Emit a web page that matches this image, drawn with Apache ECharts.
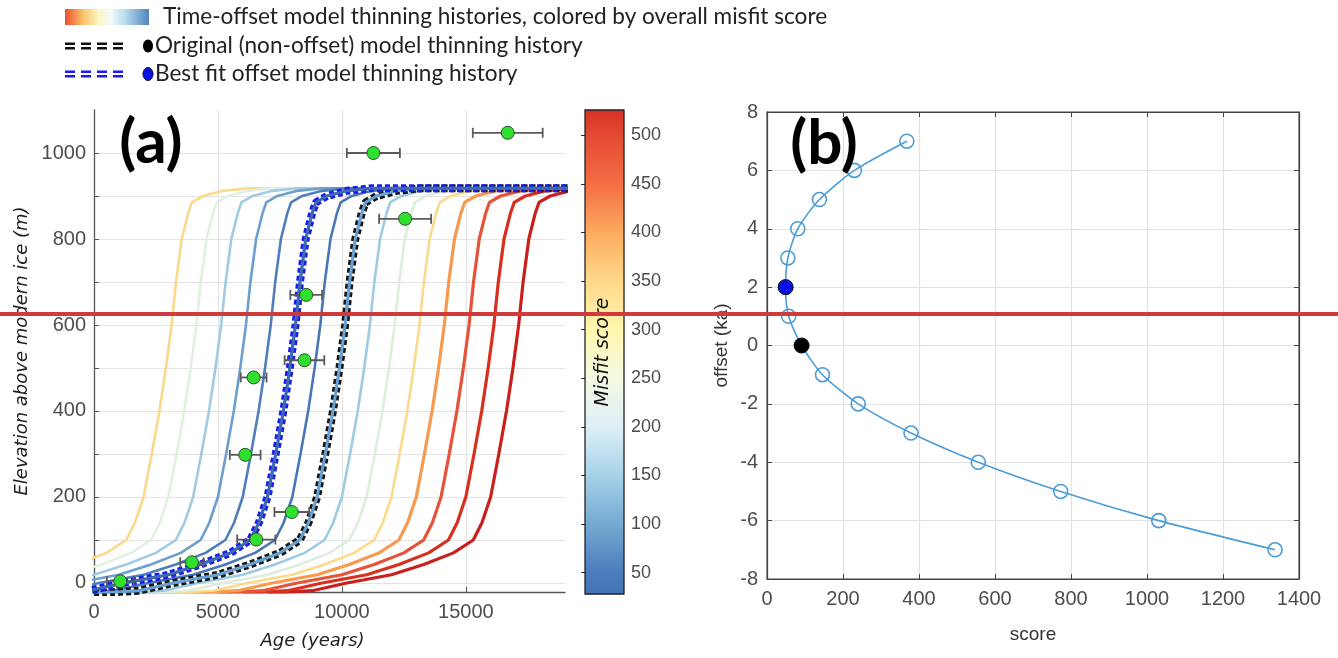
<!DOCTYPE html>
<html><head><meta charset="utf-8">
<script src="https://cdn.jsdelivr.net/npm/echarts@6/dist/echarts.min.js"></script>
<style>html,body{margin:0;padding:0;background:#fff}#c{width:1338px;height:658px}</style>
</head><body><div id="c"></div>
<script>
// ---------- DATA ----------
// Panel (b): time offset (ka) vs overall misfit score
const offsetKa    = [7, 6, 5, 4, 3, 2, 1, 0, -1, -2, -3, -4, -5, -6, -7];
const misfitScore = [368, 230, 138, 81, 55, 49, 57, 91, 146, 240, 379, 556, 773, 1031, 1337];
const bestFitOffset = 2;
const originalOffset = 0;

// Panel (a): elevation levels (m) at which each thinning history was read
const elevLevels = [-24, -18, 0, 19, 43, 70, 100, 140, 200, 300, 400, 500, 600, 700, 800, 860, 885, 900, 912, 918, 918];
// Ages (years) of each curve at those elevations, one row per offset (7 ... -7 ka)
const curveAges = [
  [-7000,-5200,-3800,-2000,-700,500,1300,1650,2000,2330,2640,2900,3130,3310,3540,3800,3950,4400,5200,6200,26000],
  [-6000,-4200,-2800,-1000,300,1500,2300,2650,3000,3330,3640,3900,4130,4310,4540,4800,4950,5400,6200,7200,26000],
  [-5000,-3200,-1800,0,1300,2500,3300,3650,4000,4330,4640,4900,5130,5310,5540,5800,5950,6400,7200,8200,26000],
  [-4000,-2200,-800,1000,2300,3500,4300,4650,5000,5330,5640,5900,6130,6310,6540,6800,6950,7400,8200,9200,26000],
  [-3000,-1200,200,2000,3300,4500,5300,5650,6000,6330,6640,6900,7130,7310,7540,7800,7950,8400,9200,10200,26000],
  [-2000,-200,1200,3000,4300,5500,6300,6650,7000,7330,7640,7900,8130,8310,8540,8800,8950,9400,10200,11200,26000],
  [-1000,800,2200,4000,5300,6500,7300,7650,8000,8330,8640,8900,9130,9310,9540,9800,9950,10400,11200,12200,26000],
  [0,1800,3200,5000,6300,7500,8300,8650,9000,9330,9640,9900,10130,10310,10540,10800,10950,11400,12200,13200,26000],
  [1000,2800,4200,6000,7300,8500,9300,9650,10000,10330,10640,10900,11130,11310,11540,11800,11950,12400,13200,14200,26000],
  [2000,3800,5200,7000,8300,9500,10300,10650,11000,11330,11640,11900,12130,12310,12540,12800,12950,13400,14200,15200,26000],
  [3000,4800,6200,8000,9300,10500,11300,11650,12000,12330,12640,12900,13130,13310,13540,13800,13950,14400,15200,16200,26000],
  [4000,5800,7200,9000,10300,11500,12300,12650,13000,13330,13640,13900,14130,14310,14540,14800,14950,15400,16200,17200,26000],
  [5000,6800,8200,10000,11300,12500,13300,13650,14000,14330,14640,14900,15130,15310,15540,15800,15950,16400,17200,18200,26000],
  [6000,7800,9200,11000,12300,13500,14300,14650,15000,15330,15640,15900,16130,16310,16540,16800,16950,17400,18200,19200,26000],
  [7000,8800,10200,12000,13300,14500,15300,15650,16000,16330,16640,16900,17130,17310,17540,17800,17950,18400,19200,20200,26000]
];

// Exposure-age samples (age, elevation, 1-sigma age error)
const sampleAge  = [1060, 3950, 6545, 7980, 6100, 6440, 8490, 8560, 12550, 11270, 16690];
const sampleElev = [4, 48, 101, 165, 298, 478, 518, 670, 847, 1000, 1047];
const sampleErr  = [540, 470, 770, 700, 620, 520, 800, 640, 1050, 1070, 1410];

// Tick values
const ageTicks   = [0, 5000, 10000, 15000];
const elevGrid   = [0,100,200,300,400,500,600,700,800,900,1000];
const elevTicks  = [0, 200, 400, 600, 800, 1000];
const cbTicks    = [50,100,150,200,250,300,350,400,450,500];
const cbRange    = [28, 526];

// ---------- STYLE ----------
const curveColors = ['#fcd88a','#e2f0e0','#a0cbe3','#6d9fcd','#4f7fba','#3d6bae','#4778b5','#67a2d3',
                     '#9ccbe3','#ddeedd','#fdd98c','#f7994f','#e55438','#d7301f','#c9201e'];
const cbStops = [[28,'#4474b3'],[50,'#4a7cbb'],[100,'#74a9d2'],[150,'#a6d2e8'],[200,'#ddeff8'],
                 [250,'#f3f9e2'],[300,'#fff6ae'],[350,'#fed889'],[400,'#fcaa5f'],[450,'#f46d43'],
                 [500,'#e34a33'],[526,'#d73027']];
const plain = v => String(v);
const tickFont = {color:'#4d4d4d', fontSize:20, fontFamily:'Liberation Sans', formatter:plain};
const axisCol = '#555';

const chart = echarts.init(document.getElementById('c'), null, {renderer:'canvas'});

const series = [];
// colored offset curves, worst misfit drawn first
const order = offsetKa.map((_, i) => i).sort((a, b) => misfitScore[b] - misfitScore[a]);
order.forEach(i => {
  series.push({
    type:'line', xAxisIndex:0, yAxisIndex:0, symbol:'none', clip:true, silent:true,
    data: curveAges[i].map((a, j) => [a, elevLevels[j]]),
    lineStyle:{color:curveColors[i], width: misfitScore[i] > 500 ? 3.2 : 2.6}
  });
});
function overlay(off, dashColor){
  const i = offsetKa.indexOf(off);
  const d = curveAges[i].map((a, j) => [a, elevLevels[j]]);
  series.push({type:'line', xAxisIndex:0, yAxisIndex:0, symbol:'none', clip:true, silent:true, data:d,
    lineStyle:{color:dashColor, width:8, type:[5,3]}});
  series.push({type:'line', xAxisIndex:0, yAxisIndex:0, symbol:'none', clip:true, silent:true, data:d,
    lineStyle:{color:curveColors[i], width:3}});
}
overlay(originalOffset, '#151515');
overlay(bestFitOffset, '#1c1cf0');

// error bars
series.push({
  type:'custom', xAxisIndex:0, yAxisIndex:0, silent:true, z:5,
  data: sampleAge.map((a, i) => [a, sampleElev[i], sampleErr[i]]),
  renderItem(params, api){
    const a = api.value(0), e = api.value(1), r = api.value(2);
    const p0 = api.coord([a - r, e]), p1 = api.coord([a + r, e]);
    const h = 5, st = {stroke:'#5a5a5a', lineWidth:1.8};
    return {type:'group', children:[
      {type:'line', shape:{x1:p0[0], y1:p0[1], x2:p1[0], y2:p1[1]}, style:st},
      {type:'line', shape:{x1:p0[0], y1:p0[1]-h, x2:p0[0], y2:p0[1]+h}, style:st},
      {type:'line', shape:{x1:p1[0], y1:p1[1]-h, x2:p1[0], y2:p1[1]+h}, style:st}
    ]};
  }
});
series.push({
  type:'scatter', xAxisIndex:0, yAxisIndex:0, silent:true, z:6, symbolSize:13,
  data: sampleAge.map((a, i) => [a, sampleElev[i]]),
  itemStyle:{color:'#2fe02f', borderColor:'#2f4f2f', borderWidth:1, opacity:1}
});

// colorbar
const cbGrad = new echarts.graphic.LinearGradient(0, 0, 0, 1,
  cbStops.slice().reverse().map(s => ({offset:(cbRange[1] - s[0]) / (cbRange[1] - cbRange[0]), color:s[1]})));
series.push({
  type:'custom', xAxisIndex:1, yAxisIndex:1, silent:true, z:1,
  data:[[0, cbRange[0], cbRange[1]]],
  renderItem(params, api){
    const tl = api.coord([0, api.value(2)]);
    const br = api.coord([1, api.value(1)]);
    return {type:'rect', shape:{x:tl[0], y:tl[1], width:br[0]-tl[0], height:br[1]-tl[1]},
            style:{fill:cbGrad, stroke:'#222', lineWidth:1.3}};
  }
});

// panel (b)
series.push({
  type:'line', xAxisIndex:2, yAxisIndex:2, silent:true, smooth:0.25,
  data: misfitScore.map((s, i) => [s, offsetKa[i]]),
  symbol:'circle', symbolSize:14,
  lineStyle:{color:'#4b9cd8', width:1.6},
  itemStyle:{color:'rgba(255,255,255,0)', borderColor:'#4b9cd8', borderWidth:1.6, opacity:1}
});
series.push({
  type:'scatter', xAxisIndex:2, yAxisIndex:2, silent:true, symbolSize:15, z:5,
  data:[{value:[misfitScore[offsetKa.indexOf(bestFitOffset)], bestFitOffset], itemStyle:{color:'#0a10e8'}},
        {value:[misfitScore[offsetKa.indexOf(originalOffset)], originalOffset], itemStyle:{color:'#000'}}],
  itemStyle:{borderColor:'#111', borderWidth:1, opacity:1}
});

const nameItal = {fontStyle:'italic', fontFamily:'DejaVu Sans', fontSize:18, color:'#222'};

const option = {
  animation:false,
  backgroundColor:'#fff',
  grid:[
    {left:94, top:110, width:471, height:482, outerBoundsMode:'none', containLabel:false},
    {left:585, top:110, width:39, height:484, outerBoundsMode:'none', containLabel:false},
    {left:767, top:112, width:532, height:467, outerBoundsMode:'none', containLabel:false,
     show:true, borderColor:'#444', borderWidth:1.2, backgroundColor:'transparent'}
  ],
  xAxis:[
    {gridIndex:0, type:'value', min:0, max:19000,
     axisLine:{show:true, onZero:false, lineStyle:{color:axisCol, width:1.3}},
     axisTick:{show:true, inside:true, length:5, customValues:ageTicks, lineStyle:{color:axisCol}},
     axisLabel:Object.assign({customValues:ageTicks, margin:10}, tickFont),
     splitLine:{show:true, lineStyle:{color:'#e4e4e4', width:1.2}},
     name:'Age (years)', nameLocation:'middle', nameGap:40, nameMoveOverlap:false,
     nameTextStyle:Object.assign({padding:[0,34,0,0]}, nameItal)},
    {gridIndex:1, type:'value', min:0, max:1, show:false},
    {gridIndex:2, type:'value', min:0, max:1400, interval:200,
     axisLine:{show:true, onZero:false, lineStyle:{color:'#444', width:1.2}},
     axisTick:{show:true, inside:true, length:5, lineStyle:{color:'#444'}},
     axisLabel:Object.assign({margin:10}, tickFont),
     splitLine:{show:true, lineStyle:{color:'#e2e2e2', width:1.2}},
     name:'score', nameLocation:'middle', nameGap:46, nameMoveOverlap:false,
     nameTextStyle:{fontFamily:'Liberation Sans', fontSize:19, color:'#333'}},
    {gridIndex:2, type:'value', min:0, max:1400, interval:200, position:'top',
     axisLine:{show:true, onZero:false, lineStyle:{color:'#444', width:1.2}},
     axisTick:{show:true, inside:true, length:5, lineStyle:{color:'#444'}},
     axisLabel:{show:false}, splitLine:{show:false}}
  ],
  yAxis:[
    {gridIndex:0, type:'value', min:-21, max:1100,
     axisLine:{show:true, onZero:false, lineStyle:{color:axisCol, width:1.3}},
     axisTick:{show:true, inside:true, length:5, customValues:elevGrid, lineStyle:{color:axisCol}},
     axisLabel:Object.assign({customValues:elevTicks, margin:8}, tickFont),
     splitLine:{show:true, lineStyle:{color:'#e4e4e4', width:1.2}},
     name:'Elevation above modern ice (m)', nameLocation:'middle', nameGap:63, nameMoveOverlap:false,
     nameTextStyle:nameItal},
    {gridIndex:1, type:'value', min:cbRange[0], max:cbRange[1], position:'right', z:10,
     axisLine:{show:false},
     axisTick:{show:true, inside:true, length:4, customValues:cbTicks, lineStyle:{color:'#333'}},
     axisLabel:Object.assign({customValues:cbTicks, margin:7}, tickFont, {fontSize:18}),
     splitLine:{show:false},
     name:'Misfit score', nameLocation:'middle', nameRotate:90, nameGap:-30, nameMoveOverlap:false,
     nameTextStyle:{fontStyle:'italic', fontFamily:'DejaVu Sans', fontSize:19, color:'#111'}},
    {gridIndex:2, type:'value', min:-8, max:8, interval:2,
     axisLine:{show:true, onZero:false, lineStyle:{color:'#444', width:1.2}},
     axisTick:{show:true, inside:true, length:5, lineStyle:{color:'#444'}},
     axisLabel:Object.assign({margin:9}, tickFont),
     splitLine:{show:true, lineStyle:{color:'#e2e2e2', width:1.2}},
     name:'offset (ka)', nameLocation:'middle', nameGap:36, nameMoveOverlap:false,
     nameTextStyle:{fontFamily:'Liberation Sans', fontSize:19, color:'#333'}},
    {gridIndex:2, type:'value', min:-8, max:8, interval:2, position:'right',
     axisLine:{show:true, onZero:false, lineStyle:{color:'#444', width:1.2}},
     axisTick:{show:true, inside:true, length:5, lineStyle:{color:'#444'}},
     axisLabel:{show:false}, splitLine:{show:false}}
  ],
  graphic:[
    // legend
    {type:'rect', shape:{x:65, y:9, width:84, height:16}, silent:true,
     style:{fill:new echarts.graphic.LinearGradient(0,0,1,0,[
       {offset:0,color:'#e8502f'},{offset:0.22,color:'#fcc46c'},{offset:0.4,color:'#fef6c4'},
       {offset:0.55,color:'#f2f9fb'},{offset:0.72,color:'#b6dbee'},{offset:1,color:'#4f84be'}])}},
    {type:'text', x:163, y:17, silent:true,
     style:{text:'Time-offset model thinning histories, colored by overall misfit score',
            font:'22.6px Lato', fill:'#222', verticalAlign:'middle'}},
    {type:'line', shape:{x1:65, y1:46, x2:127, y2:46}, silent:true,
     style:{stroke:'#111', lineWidth:7, lineDash:[10,6]}},
    {type:'line', shape:{x1:64, y1:46, x2:128, y2:46}, silent:true, style:{stroke:'#fff', lineWidth:2}},
    {type:'ellipse', shape:{cx:148, cy:46, rx:5, ry:6.5}, silent:true, style:{fill:'#000'}},
    {type:'text', x:155, y:46, silent:true,
     style:{text:'Original (non-offset) model thinning history', font:'22.6px Lato', fill:'#222', verticalAlign:'middle'}},
    {type:'line', shape:{x1:65, y1:74, x2:127, y2:74}, silent:true,
     style:{stroke:'#1c1cf0', lineWidth:7, lineDash:[10,6]}},
    {type:'line', shape:{x1:64, y1:74, x2:128, y2:74}, silent:true, style:{stroke:'#fff', lineWidth:2}},
    {type:'ellipse', shape:{cx:148, cy:74, rx:5, ry:6.5}, silent:true, style:{fill:'#0a10e8', stroke:'#111', lineWidth:1}},
    {type:'text', x:155, y:74, silent:true,
     style:{text:'Best fit offset model thinning history', font:'22.6px Lato', fill:'#222', verticalAlign:'middle'}},
    // panel labels
    {type:'text', x:151, y:143, z:50, silent:true,
     style:{text:'(a)', font:'bold 62px Lato', fill:'#000', align:'center', verticalAlign:'middle'}},
    {type:'text', x:824, y:144, z:50, silent:true,
     style:{text:'(b)', font:'bold 62px Lato', fill:'#000', align:'center', verticalAlign:'middle'}},
    // red horizontal rule across the figure
    {type:'line', shape:{x1:0, y1:314, x2:1338, y2:314}, z:100, silent:true,
     style:{stroke:'#cf3b3b', lineWidth:4}}
  ],
  series: series
};
chart.setOption(option);
</script>
</body></html>
